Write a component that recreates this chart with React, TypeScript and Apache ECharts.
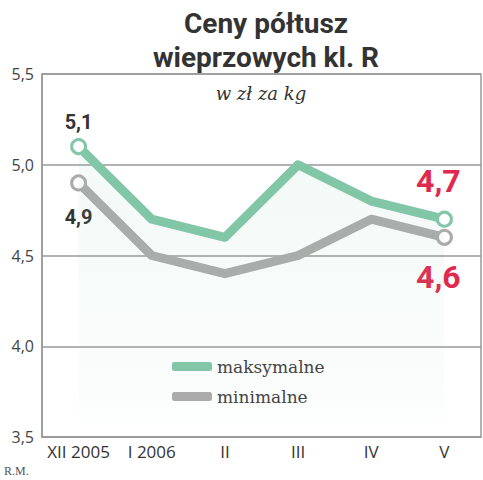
import React, { useEffect, useRef } from "react";
import * as echarts from "echarts";

const categories = ["XII 2005", "I 2006", "II", "III", "IV", "V"];
const maxValues = [5.1, 4.7, 4.6, 5.0, 4.8, 4.7];
const minValues = [4.9, 4.5, 4.4, 4.5, 4.7, 4.6];
const seriesNames = ["maksymalne", "minimalne"];
const titleLines = ["Ceny półtusz", "wieprzowych kl. R"];
const unitText = "w zł za kg";
const sourceText = "R.M.";

const GREEN = "#82c6a8";
const GRAY = "#ababab";
const RED = "#e0294f";
const fmt = (v: number) => v.toFixed(1).replace(".", ",");

export default function App() {
  const ref = useRef<HTMLDivElement>(null);
  useEffect(() => {
    if (!ref.current) return;
    const chart = echarts.init(ref.current, undefined, { renderer: "svg" });
    const last = categories.length - 1;
    const mkData = (vals: number[], firstLabel: any, lastLabel: any) =>
      vals.map((v, i) => {
        const endpoint = i === 0 || i === last;
        const item: any = { value: v, symbol: endpoint ? "circle" : "none" };
        if (i === 0) item.label = firstLabel;
        if (i === last) item.label = lastLabel;
        return item;
      });
    chart.setOption({
      animation: false,
      title: {
        text: titleLines.join("\n"),
        left: 261,
        textAlign: "center",
        top: 1,
        textStyle: {
          fontFamily: "Roboto",
          fontWeight: "bold",
          fontSize: 28,
          lineHeight: 34,
          color: "#333",
        },
      },
      graphic: [
        {
          type: "text",
          style: {
            text: unitText,
            x: 261,
            y: 93,
            align: "center",
            verticalAlign: "middle",
            font: "italic 18px 'DejaVu Serif'",
            fill: "#333",
          },
        },
        {
          type: "text",
          style: {
            text: sourceText,
            x: 4,
            y: 471,
            verticalAlign: "middle",
            font: "12px 'Liberation Serif'",
            fill: "#555",
          },
        },
      ],
      legend: {
        orient: "vertical",
        left: 167,
        top: 353,
        itemWidth: 40,
        itemHeight: 9,
        itemGap: 13,
        icon: "roundRect",
        textStyle: { fontFamily: "DejaVu Serif", fontSize: 17, color: "#444" },
        data: [
          { name: seriesNames[0], itemStyle: { color: GREEN, borderWidth: 0 } },
          { name: seriesNames[1], itemStyle: { color: GRAY, borderWidth: 0 } },
        ],
      },
      grid: {
        left: 42,
        right: 2,
        top: 74,
        bottom: 43,
        show: true,
        borderColor: "#999",
        borderWidth: 1.5,
      },
      xAxis: {
        type: "category",
        data: categories,
        boundaryGap: true,
        axisLine: { lineStyle: { color: "#999", width: 1.5 } },
        axisTick: { show: false },
        axisLabel: {
          color: "#333",
          fontSize: 17,
          fontFamily: "Open Sans",
          margin: 6,
          interval: 0,
          hideOverlap: false,
        },
      },
      yAxis: {
        type: "value",
        min: 3.5,
        max: 5.5,
        interval: 0.5,
        axisLine: { show: true, lineStyle: { color: "#999", width: 1.5 } },
        axisTick: { show: false },
        splitLine: { lineStyle: { color: "#999", width: 1.5 } },
        axisLabel: {
          color: "#444",
          fontSize: 16,
          fontFamily: "Open Sans",
          margin: 8,
          formatter: (v: number) => fmt(v),
        },
      },
      series: [
        {
          name: seriesNames[0],
          type: "line",
          z: 3,
          symbolSize: 14,
          itemStyle: { color: "#fff", borderColor: GREEN, borderWidth: 3 },
          lineStyle: { color: GREEN, width: 9, join: "round" },
          areaStyle: {
            color: new echarts.graphic.LinearGradient(0, 0, 0, 1, [
              { offset: 0, color: "rgba(130,198,168,0.14)" },
              { offset: 0.8, color: "rgba(130,198,168,0.06)" },
              { offset: 1, color: "rgba(130,198,168,0)" },
            ]),
          },
          data: mkData(
            maxValues,
            {
              show: true,
              position: "top",
              distance: 6,
              formatter: (p: any) => fmt(p.value),
              color: "#333",
              fontSize: 20,
              fontWeight: "bold",
              fontFamily: "Roboto",
            },
            {
              show: true,
              position: "top",
              distance: 14,
              offset: [-6, 0],
              formatter: (p: any) => fmt(p.value),
              color: RED,
              fontSize: 32,
              fontWeight: "bold",
              fontFamily: "Roboto",
            }
          ),
        },
        {
          name: seriesNames[1],
          type: "line",
          z: 2,
          symbolSize: 14,
          itemStyle: { color: "#fff", borderColor: GRAY, borderWidth: 3 },
          lineStyle: { color: GRAY, width: 9, join: "round" },
          data: mkData(
            minValues,
            {
              show: true,
              position: "bottom",
              distance: 16,
              formatter: (p: any) => fmt(p.value),
              color: "#333",
              fontSize: 20,
              fontWeight: "bold",
              fontFamily: "Roboto",
            },
            {
              show: true,
              position: "bottom",
              distance: 15,
              offset: [-6, 0],
              formatter: (p: any) => fmt(p.value),
              color: RED,
              fontSize: 32,
              fontWeight: "bold",
              fontFamily: "Roboto",
            }
          ),
        },
      ],
    });
    return () => chart.dispose();
  }, []);
  return (
    <div
      ref={ref}
      style={{ position: "fixed", left: 0, top: 0, width: 483, height: 480, background: "#fff" }}
    />
  );
}
